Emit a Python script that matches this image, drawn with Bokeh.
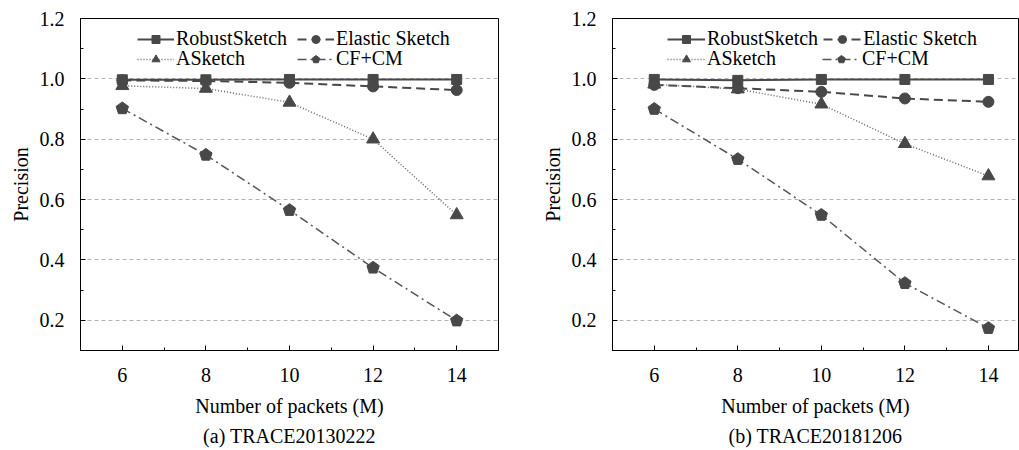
from bokeh.plotting import figure
from bokeh.layouts import row
from bokeh.models import (Range1d, FixedTicker, Legend, LegendItem, Title, PrintfTickFormatter)
from bokeh.embed import file_html
from bokeh.resources import INLINE

# ---------------- data ----------------
packets = [6, 8, 10, 12, 14]
series_names = ["RobustSketch", "Elastic Sketch", "ASketch", "CF+CM"]

robust_a = [0.997, 0.997, 0.998, 0.998, 0.998]
elastic_a = [0.995, 0.993, 0.987, 0.975, 0.963]
asketch_a = [0.977, 0.968, 0.922, 0.800, 0.549]
cfcm_a = [0.902, 0.748, 0.565, 0.374, 0.199]

robust_b = [0.998, 0.995, 0.998, 0.998, 0.998]
elastic_b = [0.980, 0.969, 0.957, 0.935, 0.924]
asketch_b = [0.982, 0.966, 0.916, 0.785, 0.678]
cfcm_b = [0.900, 0.734, 0.549, 0.323, 0.174]

y_ticks = [0.2, 0.4, 0.6, 0.8, 1.0, 1.2]
y_minor = [0.3, 0.5, 0.7, 0.9, 1.1]
x_ticks = [6, 8, 10, 12, 14]
x_minor = [7, 9, 11, 13]

FONT = "Liberation Serif"
FS = "20px"
DARK = "#484848"


def make_plot(width, bl, br, x_end, caption, robust, elastic, asketch, cfcm,
              leg_x, glyph_w, label_w, lstand, spacing):
    p = figure(width=width, height=450, output_backend="svg", toolbar_location=None,
               x_range=Range1d(5, x_end), y_range=Range1d(0.1, 1.2),
               min_border_left=bl, min_border_right=br, min_border_top=18,
               min_border_bottom=97)
    p.background_fill_color = "white"
    p.border_fill_color = "white"
    p.outline_line_color = "black"
    p.outline_line_width = 1

    p.xgrid.visible = False
    p.ygrid.grid_line_color = "#b4b4b4"
    p.ygrid.grid_line_dash = "4 3"
    p.ygrid.grid_line_width = 1

    p.xaxis.ticker = FixedTicker(ticks=x_ticks, minor_ticks=x_minor)
    p.yaxis.ticker = FixedTicker(ticks=y_ticks, minor_ticks=y_minor)
    p.yaxis.formatter = PrintfTickFormatter(format="%.1f")
    for ax in (p.xaxis[0], p.yaxis[0]):
        ax.axis_line_color = "black"
        ax.major_tick_line_color = "black"
        ax.minor_tick_line_color = "black"
        ax.major_tick_in = 5
        ax.major_tick_out = 0
        ax.minor_tick_in = 3
        ax.minor_tick_out = 0
        ax.major_label_text_font = FONT
        ax.major_label_text_font_size = FS
        ax.major_label_text_color = "black"
        ax.axis_label_text_font = FONT
        ax.axis_label_text_font_size = FS
        ax.axis_label_text_font_style = "normal"
        ax.axis_label_text_color = "black"
    p.xaxis.axis_label = "Number of packets (M)"
    p.yaxis.axis_label = "Precision"
    p.xaxis.major_label_standoff = 17
    p.xaxis.axis_label_standoff = 10
    p.yaxis.major_label_standoff = 16
    p.yaxis.axis_label_standoff = 5

    r1 = p.line(packets, robust, line_color=DARK, line_width=2)
    m1 = p.scatter(packets, robust, marker="square", size=10, fill_color=DARK, line_color=DARK)
    r2 = p.line(packets, elastic, line_color=DARK, line_width=2, line_dash="9 5")
    m2 = p.scatter(packets, elastic, marker="circle", size=11, fill_color=DARK, line_color=DARK)
    r3 = p.line(packets, asketch, line_color="#666666", line_width=1.5, line_dash="1 2")
    m3 = p.scatter(packets, asketch, marker="triangle", size=13, fill_color=DARK, line_color=DARK)
    r4 = p.line(packets, cfcm, line_color="#555555", line_width=1.5, line_dash="9 4 2 4")
    try:
        m4 = p.ngon(x=packets, y=cfcm, radius=6.5, radius_units="screen", n=5,
                    angle=0, fill_color=DARK, line_color=DARK)
    except Exception:
        m4 = p.scatter(packets, cfcm, marker="hex", size=11, fill_color=DARK, line_color=DARK)

    def legend(items, bottom):
        lg = Legend(items=items, orientation="horizontal", location=(leg_x, bottom),
                    background_fill_alpha=0, border_line_alpha=0, padding=0, margin=0,
                    spacing=spacing, glyph_width=glyph_w, glyph_height=20,
                    label_width=label_w, label_height=20, label_standoff=lstand,
                    label_text_font=FONT, label_text_font_size=FS,
                    label_text_color="black")
        p.add_layout(lg, "center")

    legend([LegendItem(label=series_names[0], renderers=[r1, m1]),
            LegendItem(label=series_names[1], renderers=[r2, m2])], 300)
    legend([LegendItem(label=series_names[2], renderers=[r3, m3]),
            LegendItem(label=series_names[3], renderers=[r4, m4])], 280)

    p.add_layout(Title(text=caption, align="center", text_font=FONT, text_font_size=FS,
                       text_font_style="normal", text_color="black", standoff=7), "below")
    return p


p1 = make_plot(508, 80, 10, 15.0, "(a) TRACE20130222",
               robust_a, elastic_a, asketch_a, cfcm_a, 57, 37, 116, 2, 5)
p2 = make_plot(511, 104, 1, 14.72, "(b) TRACE20181206",
               robust_b, elastic_b, asketch_b, cfcm_b, 55, 38, 110, 2, 5)

layout = row(p1, p2)
open("out.html", "w").write(file_html(layout, INLINE))
